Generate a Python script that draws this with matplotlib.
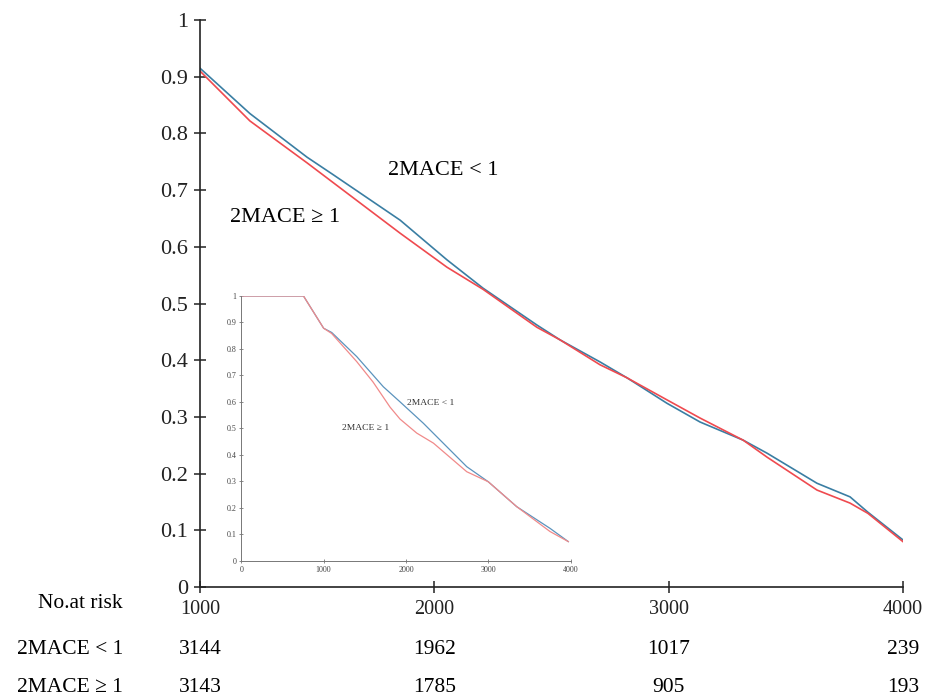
import matplotlib.pyplot as plt
import matplotlib.transforms as mtransforms

plt.rcParams['font.family'] = ['Liberation Serif', 'DejaVu Serif']

# main curves (follow-up time vs survival)
t_main = [1000, 1213, 1457, 1569, 1854, 2054, 2208, 2438, 2536, 2707,
          2822, 2993, 3134, 3318, 3420, 3633, 3774, 3850, 4000]
surv_lt1 = [0.915, 0.835, 0.758, 0.727, 0.647, 0.577, 0.527, 0.462, 0.436, 0.397,
            0.369, 0.324, 0.291, 0.259, 0.236, 0.183, 0.159, 0.132, 0.083]
surv_ge1 = [0.910, 0.822, 0.748, 0.713, 0.624, 0.564, 0.525, 0.458, 0.436, 0.392,
            0.369, 0.330, 0.298, 0.259, 0.229, 0.171, 0.148, 0.130, 0.080]

# inset curves (full range)
t_ins_lt1 = [0, 755, 1000, 1098, 1402, 1725, 1928, 2212, 2334, 2739, 3001, 3346, 3751, 3973]
ins_lt1 = [1, 1, 0.878, 0.862, 0.771, 0.657, 0.600, 0.519, 0.481, 0.355, 0.298, 0.204, 0.122, 0.072]
t_ins_ge1 = [0, 755, 1000, 1098, 1402, 1600, 1807, 1928, 2131, 2334, 2739, 3001, 3346, 3751, 3973]
ins_ge1 = [1, 1, 0.878, 0.858, 0.752, 0.675, 0.580, 0.535, 0.482, 0.444, 0.336, 0.298, 0.204, 0.110, 0.072]

xticks = [1000, 2000, 3000, 4000]
yticks = [0, 0.1, 0.2, 0.3, 0.4, 0.5, 0.6, 0.7, 0.8, 0.9, 1]
ytick_labels = ['0', '0.1', '0.2', '0.3', '0.4', '0.5', '0.6', '0.7', '0.8', '0.9', '1']
risk_lt1 = [3144, 1962, 1017, 239]
risk_ge1 = [3143, 1785, 905, 193]

blue = '#3a7ea3'
red = '#ef4a4f'

fig = plt.figure(figsize=(9.25, 6.99), dpi=100)
ax = fig.add_axes([0.2162, 0.1602, 0.76, 0.8112])
ax.plot(t_main, surv_lt1, color=blue, lw=1.2)
ax.plot(t_main, surv_ge1, color=red, lw=1.2)
ax.set_xlim(1000, 4000)
ax.set_ylim(0, 1)
ax.set_xticks(xticks)
ax.set_yticks(yticks)
ax.set_yticklabels(ytick_labels)
for s in ['top', 'right']:
    ax.spines[s].set_visible(False)
for s in ['left', 'bottom']:
    ax.spines[s].set_linewidth(1.2)
    ax.spines[s].set_color('#222222')
ax.tick_params(axis='both', direction='inout', length=9, width=1.1, colors='#222222')
ax.tick_params(axis='y', pad=4, labelsize=16)
ax.tick_params(axis='x', pad=5, labelsize=14.5)

ax.text(1802, 0.735, '2MACE < 1', fontsize=16, va='center')
ax.text(1128, 0.651, '2MACE ≥ 1', fontsize=16, va='center')

# number at risk table
tr = mtransforms.blended_transform_factory(ax.transData, fig.transFigure)
for x, a, b in zip(xticks, risk_lt1, risk_ge1):
    ax.text(x, 1 - 650 / 699, str(a), transform=tr, ha='center', va='center', fontsize=15.5)
    ax.text(x, 1 - 688 / 699, str(b), transform=tr, ha='center', va='center', fontsize=15.5)
fig.text(123 / 925, 1 - 603 / 699, 'No.at risk', ha='right', va='center', fontsize=15.5)
fig.text(17 / 925, 1 - 650 / 699, '2MACE < 1', ha='left', va='center', fontsize=15.5)
fig.text(17 / 925, 1 - 688 / 699, '2MACE ≥ 1', ha='left', va='center', fontsize=15.5)

# inset
ins = fig.add_axes([0.2609, 0.1979, 0.3559, 0.3787])
ins.patch.set_alpha(0)
ins.plot(t_ins_lt1, ins_lt1, color='#5b93bd', lw=0.9)
ins.plot(t_ins_ge1, ins_ge1, color='#f08a8a', lw=0.9)
ins.set_xlim(0, 4000)
ins.set_ylim(0, 1)
ins.set_xticks([0, 1000, 2000, 3000, 4000])
ins.set_yticks(yticks)
ins.set_yticklabels(ytick_labels)
for s in ['top', 'right']:
    ins.spines[s].set_visible(False)
for s in ['left', 'bottom']:
    ins.spines[s].set_linewidth(0.7)
    ins.spines[s].set_color('#777777')
ins.tick_params(axis='both', direction='inout', length=3, width=0.6,
                colors='#777777', labelsize=5.8, labelcolor='#444444', pad=2)
ins.text(2013, 0.596, '2MACE < 1', fontsize=6.8, va='center', color='#333333')
ins.text(1220, 0.50, '2MACE ≥ 1', fontsize=6.8, va='center', color='#333333')

fig.savefig('out.png', dpi=100)
